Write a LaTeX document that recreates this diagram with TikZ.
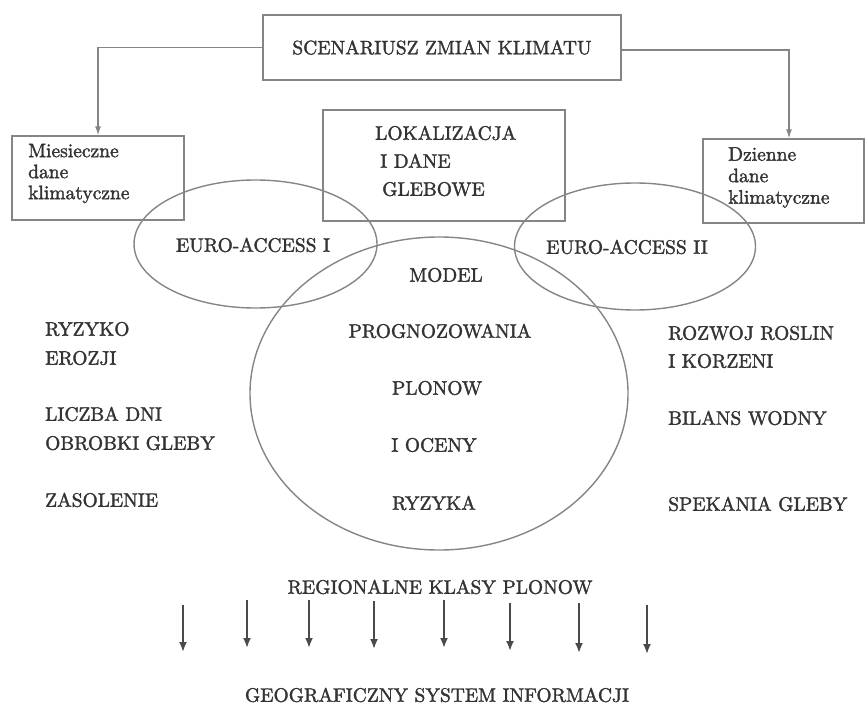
\documentclass[tikz,border=0pt]{standalone}
\usepackage{fontspec}
\font\hv="[lmroman10-regular.otf]:embolden=1.7" at 19.5pt
\usetikzlibrary{arrows.meta,shapes.geometric}
\definecolor{ln}{HTML}{858585}
\definecolor{tx}{HTML}{333333}
\definecolor{ar}{HTML}{4a4a4a}
\begin{document}
\begin{tikzpicture}[x=1pt,y=-1pt,
  lbl/.style={text=tx,font={\hv\baselineskip=21pt},inner sep=0pt},
  lbll/.style={lbl,align=left,anchor=west},
  boxs/.style={draw=ln,line width=1.4pt,rectangle,inner sep=0pt},
  ell/.style={draw=ln,line width=1.4pt,ellipse,inner sep=0pt,outer sep=0pt},
  conn/.style={draw=ln,line width=1.3pt,-{Latex[length=9pt,width=6pt]}},
  down/.style={draw=ar,line width=1.9pt,-{Latex[length=10pt,width=8pt]}}]
\useasboundingbox (0,0) rectangle (866,708);

% boxes
\node[boxs,minimum width=358pt,minimum height=65pt,lbl,draw=ln] (top) at (442,47.5) {SCENARIUSZ ZMIAN KLIMATU};
\node[boxs,minimum width=172pt,minimum height=84pt] (lbox) at (98,178) {};
\node[lbll] (ltxt) at (28,173.5) {Miesieczne\\dane\\klimatyczne};
\node[boxs,minimum width=161pt,minimum height=84pt] (rbox) at (783.5,181) {};
\node[lbll,font={\hv\baselineskip=21.5pt}] (rtxt) at (728,177.5) {Dzienne\\dane\\klimatyczne};
\node[boxs,minimum width=242pt,minimum height=111pt] (loc) at (444,165.5) {};
\node[lbll,font={\hv\baselineskip=28pt}] (loctxt) at (375,161) {LOKALIZACJA\\\hspace{5pt}I DANE\\\hspace{7pt}GLEBOWE};

% connectors from scenario box
\draw[conn] (top.west) -| (lbox.north);
\draw[conn] ([yshift=-2.5pt]top.east) -| ([xshift=5.5pt]rbox.north);

% ellipses
\node[ell,minimum width=243pt,minimum height=128pt] (e1) at (255.5,244) {};
\node[ell,minimum width=241pt,minimum height=127pt] (e2) at (635,246.5) {};
\node[ell,minimum width=378pt,minimum height=313pt] (big) at (439,393.5) {};
\node[lbl] (e1t) at (253,245) {EURO-ACCESS I};
\node[lbl] (e2t) at (627,247) {EURO-ACCESS II};

% model texts
\node[lbl] (m1) at (446,275) {MODEL};
\node[lbl] (m2) at (440,331) {PROGNOZOWANIA};
\node[lbl] (m3) at (437,388) {PLONOW};
\node[lbl] (m4) at (434,445) {I OCENY};
\node[lbl] (m5) at (434,503) {RYZYKA};

% left labels
\node[lbll,font={\hv\baselineskip=29pt}] (ryz) at (45,343.5) {RYZYKO\\EROZJI};
\node[lbll,font={\hv\baselineskip=29pt}] (licz) at (45,428.5) {LICZBA DNI\\OBROBKI GLEBY};
\node[lbll] (zas) at (45,500) {ZASOLENIE};

% right labels
\node[lbll,font={\hv\baselineskip=28pt}] (rozw) at (668,347) {ROZWOJ ROSLIN\\I KORZENI};
\node[lbll] (bil) at (668,418) {BILANS WODNY};
\node[lbll] (spek) at (668,504) {SPEKANIA GLEBY};

% bottom
\node[lbl] (reg) at (440,587) {REGIONALNE KLASY PLONOW};
\node[lbl] (geo) at (437,695) {GEOGRAFICZNY SYSTEM INFORMACJI};

\foreach \i/\x/\ya/\yb in {1/183/605/652,2/247/600/648,3/309/600/648,4/374/601/649,5/444/600/648,6/510/603/651,7/579/603/653,8/647/605/654}{
  \coordinate (s\i) at (\x,\ya);
  \coordinate (t\i) at (\x,\yb);
  \draw[down] (s\i) -- (t\i);
}
\end{tikzpicture}
\end{document}
